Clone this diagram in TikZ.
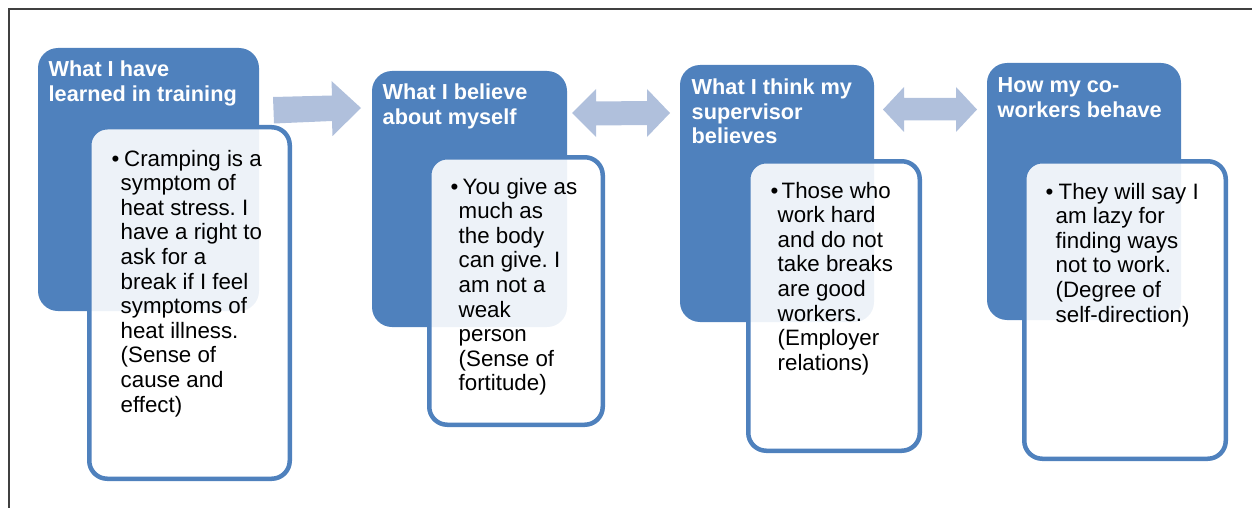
\documentclass[tikz,border=0pt]{standalone}
\usepackage{fontspec}
\setmainfont{Liberation Sans}
\definecolor{boxblue}{RGB}{79,129,189}
\definecolor{arrowblue}{RGB}{176,192,220}
\definecolor{framegray}{RGB}{64,64,64}
\frenchspacing
\begin{document}
\begin{tikzpicture}[x=1pt,y=-1pt,
  bluebox/.style={fill=boxblue, draw=none, rounded corners=20pt, inner sep=0pt, outer sep=0pt, anchor=north west},
  whitebox/.style={fill=white, fill opacity=0.9, draw=boxblue, draw opacity=1, line width=4.5pt, rounded corners=18pt, inner sep=0pt, outer sep=0pt, anchor=north west},
  titletext/.style={anchor=base west, inner sep=0pt, text=white, font=\fontsize{21.7}{24.5}\selectfont\bfseries},
  bodytext/.style={anchor=base west, inner sep=0pt, text=black, font=\fontsize{22.3}{24.6}\selectfont},
  bulletmark/.style={anchor=base west, inner sep=0pt, text=black, font=\fontsize{22.3}{24.6}\selectfont},
  blockarrow/.style={fill=arrowblue, draw=none},
  framelines/.style={draw=framegray, line width=1.5pt}
]
\useasboundingbox (0,0) rectangle (1252,508);
% frame
\coordinate (fbl) at (9,510);
\coordinate (ftl) at (9,9);
\coordinate (ftr) at (1254,9);
\draw[framelines] (fbl) -- (ftl) -- (ftr);

% blue boxes
\node[bluebox, minimum width=221pt, minimum height=263pt] (b1) at (38,48) {};
\node[bluebox, minimum width=195pt, minimum height=256pt] (b2) at (372,71) {};
\node[bluebox, minimum width=194pt, minimum height=257pt] (b3) at (680,65) {};
\node[bluebox, minimum width=194pt, minimum height=257pt] (b4) at (987,63) {};

% block arrows
\fill[blockarrow] (273,97) -- (332,95.5) -- (331.5,81) -- (361,108) -- (332.5,136) -- (332,121) -- (274,123.5) -- cycle;
\fill[blockarrow] (572,113) -- (596,89) -- (596,101.5) -- (647,101) -- (647,89) -- (670,113) -- (647,137) -- (647,125) -- (596,125.5) -- (596,137) -- cycle;
\fill[blockarrow] (883,109.5) -- (904,87) -- (904,98) -- (956,98) -- (956,87) -- (977,109.5) -- (956,132) -- (956,120.5) -- (904,120.5) -- (904,132) -- cycle;

% white boxes
\node[whitebox, minimum width=200.5pt, minimum height=351.5pt] (w1) at (89.25,127.25) {};
\node[whitebox, minimum width=173.5pt, minimum height=267.5pt] (w2) at (429.25,157.25) {};
\node[whitebox, minimum width=171.5pt, minimum height=289.5pt] (w3) at (748.25,161.25) {};
\node[whitebox, minimum width=201.5pt, minimum height=297.5pt] (w4) at (1024.25,161.25) {};

% titles
\node[titletext] (t1) at (48.5,77) {\begin{tabular}[t]{@{}l@{}}What I have\\learned in training\end{tabular}};
\node[titletext] (t2) at (382.5,100) {\begin{tabular}[t]{@{}l@{}}What I believe\\about myself\end{tabular}};
\node[titletext] (t3) at (691.5,95) {\begin{tabular}[t]{@{}l@{}}What I think my\\supervisor\\believes\end{tabular}};
\node[titletext] (t4) at (997.5,93) {\begin{tabular}[t]{@{}l@{}}How my co-\\workers behave\end{tabular}};

% bullets
\node[bulletmark] (u1) at (111.5,166) {•};
\node[bulletmark] (u2) at (450.5,194) {•};
\node[bulletmark] (u3) at (770.5,198) {•};
\node[bulletmark] (u4) at (1045.5,199) {•};

% body texts
\node[bodytext] (x1) at (120.5,166) {\begin{tabular}[t]{@{}l@{}}\hspace{3.5pt}Cramping is a\\symptom of\\heat stress. I\\have a right to\\ask for a\\break if I feel\\symptoms of\\heat illness.\\(Sense of\\cause and\\effect)\end{tabular}};
\node[bodytext] (x2) at (458.5,194) {\begin{tabular}[t]{@{}l@{}}\hspace{4pt}You give as\\much as\\the body\\can give. I\\am not a\\weak\\person\\(Sense of\\fortitude)\end{tabular}};
\node[bodytext] (x3) at (777.5,198) {\begin{tabular}[t]{@{}l@{}}\hspace{4pt}Those who\\work hard\\and do not\\take breaks\\are good\\workers.\\(Employer\\relations)\end{tabular}};
\node[bodytext] (x4) at (1055.5,199) {\begin{tabular}[t]{@{}l@{}}\hspace{3pt}They will say I\\am lazy for\\finding ways\\not to work.\\(Degree of\\self-direction)\end{tabular}};
\end{tikzpicture}
\end{document}
